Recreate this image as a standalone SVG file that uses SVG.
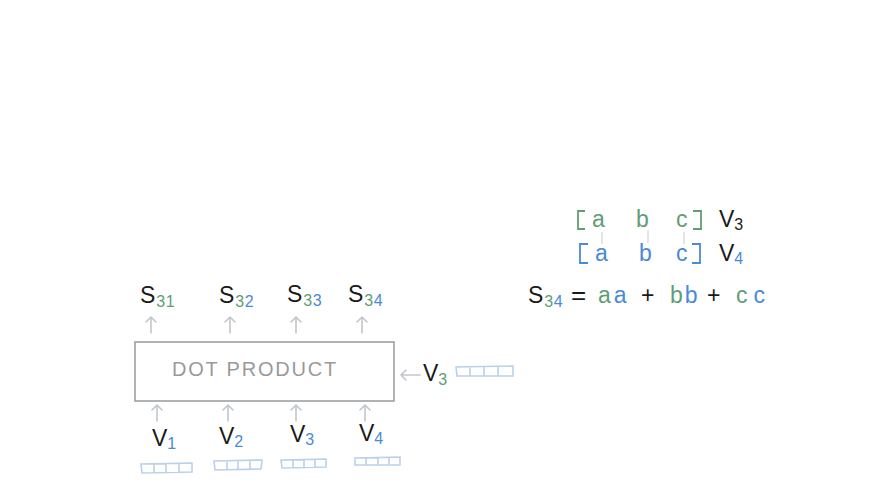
<svg xmlns="http://www.w3.org/2000/svg" width="886" height="498" viewBox="0 0 886 498">
<defs>
<style>
.t{font-family:"Liberation Sans","DejaVu Sans",sans-serif;fill:#1a1a1a}
.big{font-size:23px}
.sub{font-size:16px;letter-spacing:0.5px}
.g{fill:#5f9e74}
.b{fill:#4b8ad6}
.arr{stroke:#c3c6ca;stroke-width:1.6;fill:none;stroke-linecap:round;stroke-linejoin:round}
.vec{stroke:#bcd0ea;stroke-width:1.6;fill:none}
.tick{stroke:#d4d4d4;stroke-width:1.2}
</style>
</defs>
<rect width="886" height="498" fill="#ffffff"/>

<g id="outputs">
<text class="t big" x="140" y="303">S<tspan class="sub g" dx="1" dy="4">31</tspan></text>
<text class="t big" x="219" y="303">S<tspan class="sub g" dx="1" dy="4">3</tspan><tspan class="sub b">2</tspan></text>
<text class="t big" x="287" y="302">S<tspan class="sub g" dx="1" dy="4">3</tspan><tspan class="sub b">3</tspan></text>
<text class="t big" x="348" y="302">S<tspan class="sub g" dx="1" dy="4">3</tspan><tspan class="sub b">4</tspan></text>
</g>

<g id="dot-product">
<rect x="135" y="342" width="259" height="59" fill="none" stroke="#9ea2a6" stroke-width="1.6"/>
<text x="172" y="376" font-family="Liberation Sans, sans-serif" font-size="20" fill="#9a9a9a" letter-spacing="1.8">DOT  PRODUCT</text>
</g>

<g id="inputs">
<text class="t big" x="152" y="446">V<tspan class="sub b" dy="3">1</tspan></text>
<text class="t big" x="219" y="444">V<tspan class="sub b" dy="3">2</tspan></text>
<text class="t big" x="290" y="442">V<tspan class="sub b" dy="3">3</tspan></text>
<text class="t big" x="359" y="441">V<tspan class="sub b" dy="3">4</tspan></text>
<text class="t big" x="423" y="381">V<tspan class="sub g" dy="4">3</tspan></text>
</g>

<g id="vectors">
<path class="vec" d="M141 464 L192 463 L192 472 L142 473 Z M154 464 V473 M166 463 V472 M179 463 V472"/>
<path class="vec" d="M214 461 L262 460 L261 469 L215 470 Z M227 461 V470 M238 460 V469 M250 460 V469"/>
<path class="vec" d="M281 460 L326 459 L326 467 L282 468 Z M293 460 V468 M304 459 V468 M315 459 V467"/>
<path class="vec" d="M355 458 L400 457 L400 465 L355 465 Z M366 458 V465 M378 457 V465 M389 457 V465"/>
<path class="vec" d="M456 367 L513 366 L513 376 L457 376 Z M470 367 V376 M484 366 V376 M498 366 V376"/>
</g>

<g id="connectors">
<path class="arr" d="M151 333 V317 M146 322 L151 317 L156 322"/>
<path class="arr" d="M230 333 V317 M225 322 L230 317 L235 322"/>
<path class="arr" d="M296 333 V317 M291 322 L296 317 L301 322"/>
<path class="arr" d="M362 333 V317 M357 322 L362 317 L367 322"/>
<path class="arr" d="M157 421 V405 M152 410 L157 405 L162 410"/>
<path class="arr" d="M228 421 V405 M223 410 L228 405 L233 410"/>
<path class="arr" d="M296 421 V405 M291 410 L296 405 L301 410"/>
<path class="arr" d="M365 421 V405 M360 410 L365 405 L370 410"/>
<path class="arr" d="M420 375 H401 M406 370 L401 375 L406 380"/>
</g>

<g id="formula">
<path d="M585 211 H578 V229 H585" fill="none" stroke="#5f9e74" stroke-width="1.8"/>
<text class="t big g" x="592" y="227">a</text>
<text class="t big g" x="636" y="227">b</text>
<text class="t big g" x="676" y="227">c</text>
<path d="M693 211 H701 V229 H693" fill="none" stroke="#5f9e74" stroke-width="1.8"/>
<text class="t big" x="719" y="227">V<tspan class="sub" dy="3">3</tspan></text>

<path class="tick" d="M602 232 V244 M648 230 V243 M684 232 V244"/>

<path d="M588 244 H580 V263 H588" fill="none" stroke="#4b8ad6" stroke-width="1.8"/>
<text class="t big b" x="595" y="261">a</text>
<text class="t big b" x="639" y="261">b</text>
<text class="t big b" x="676" y="261">c</text>
<path d="M692 244 H700 V263 H692" fill="none" stroke="#4b8ad6" stroke-width="1.8"/>
<text class="t big" x="719" y="261">V<tspan class="sub b" dy="3">4</tspan></text>

<text class="t big" x="528" y="303">S<tspan class="sub g" dx="1" dy="4">3</tspan><tspan class="sub b">4</tspan></text>
<text class="t" x="571" y="304" font-size="26">=</text>
<text class="t big" x="598" y="303" letter-spacing="3"><tspan class="g">a</tspan><tspan class="b">a</tspan></text>
<text class="t big" x="641" y="303">+</text>
<text class="t big" x="670" y="303" letter-spacing="2"><tspan class="g">b</tspan><tspan class="b">b</tspan></text>
<text class="t big" x="707" y="303">+</text>
<text class="t big" x="736" y="303" letter-spacing="6"><tspan class="g">c</tspan><tspan class="b">c</tspan></text>
</g>
</svg>
